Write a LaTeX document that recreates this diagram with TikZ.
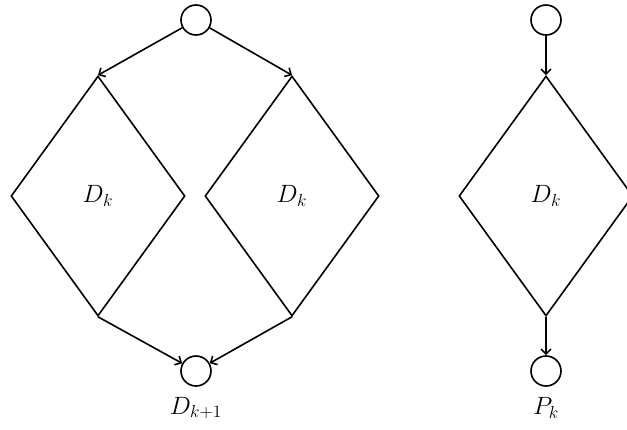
\documentclass[tikz,border=0pt]{standalone}
\usepackage{amsmath}
\usepackage{graphicx}
\usepackage{tikz}
\usetikzlibrary{shapes.geometric,arrows.meta}

\newcommand{\lab}[1]{\scalebox{1.45}{$#1$}}

\tikzset{
	state/.style={draw, circle, line width=1.6pt, minimum size=30pt, inner sep=0pt},
	block/.style={draw, diamond, line width=1.6pt, minimum width=174pt, minimum height=240pt, inner sep=0pt, font=\LARGE},
	arr/.style={line width=1.6pt, -{Straight Barb[length=5pt,width=10pt]}},
	lbl/.style={font=\LARGE}
}

\begin{document}
\begin{tikzpicture}[x=1pt, y=-1pt]
		\useasboundingbox (0, 0) rectangle (627, 429);

		% left part
		\node[state] (top) at (196, 20) {};
		\node[block] (left) at (98, 196) {\lab{D_k}};
		\node[block] (right) at (292, 196) {\lab{D_k}};
		\node[state] (bot) at (196, 371) {};
		\node[lbl] (botlbl) at (196, 408) {\lab{D_{k+1}}};

		\draw[arr] (top) -- (left.north);
		\draw[arr] (top) -- (right.north);
		\draw[arr] (left.south) -- (bot);
		\draw[arr] (right.south) -- (bot);

		% right part
		\node[state] (ptop) at (546, 20) {};
		\node[block] (pmid) at (546, 196) {\lab{D_k}};
		\node[state] (pbot) at (546, 371) {};
		\node[lbl] (pbotlbl) at (546, 408) {\lab{P_k}};

		\draw[arr] (ptop) -- (pmid.north);
		\draw[arr] (pmid.south) -- (pbot);
	\end{tikzpicture}
\end{document}
